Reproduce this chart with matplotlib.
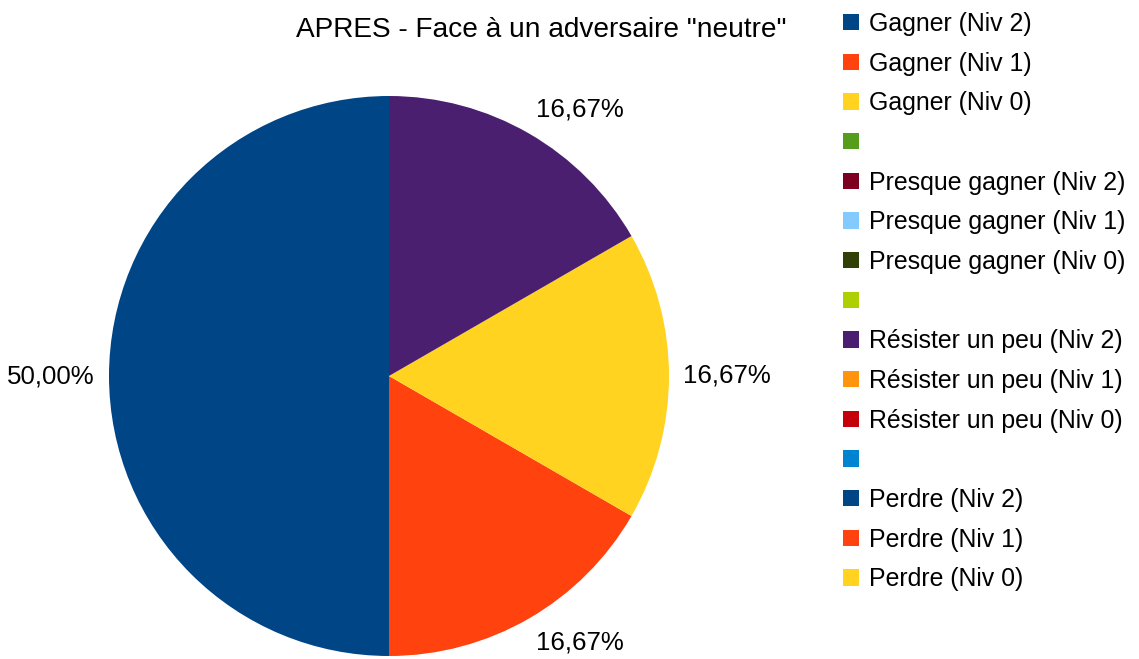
import numpy as np
import matplotlib
matplotlib.use("Agg")
import matplotlib.pyplot as plt

plt.rcParams['font.family'] = ['Liberation Sans', 'DejaVu Sans']

title = 'APRES - Face à un adversaire "neutre"'
categories = [
    "Gagner (Niv 2)", "Gagner (Niv 1)", "Gagner (Niv 0)", "",
    "Presque gagner (Niv 2)", "Presque gagner (Niv 1)", "Presque gagner (Niv 0)", "",
    "Résister un peu (Niv 2)", "Résister un peu (Niv 1)", "Résister un peu (Niv 0)", "",
    "Perdre (Niv 2)", "Perdre (Niv 1)", "Perdre (Niv 0)",
]
values = [3, 1, 1, 0, 0, 0, 0, 0, 1, 0, 0, 0, 0, 0, 0]
palette = ["#004586", "#ff420e", "#ffd320", "#579d1c", "#7e0021", "#83caff",
           "#314004", "#aecf00", "#4b1f6f", "#ff950e", "#c5000b", "#0084d1"]
colors = [palette[i % len(palette)] for i in range(len(categories))]

W, H = 1139, 659
fig = plt.figure(figsize=(W / 100, H / 100), dpi=100)
cx, cy, r = 389, 376, 280
ax = fig.add_axes([(cx - r) / W, (H - cy - r) / H, 2 * r / W, 2 * r / H])

wedges, _ = ax.pie(values, colors=colors, startangle=90, counterclock=True,
                   radius=1, wedgeprops=dict(linewidth=0))
ax.set_xlim(-1, 1)
ax.set_ylim(-1, 1)
ax.set_aspect('equal')
ax.axis('off')

total = sum(values)
for w, v in zip(wedges, values):
    if v == 0:
        continue
    mid = np.deg2rad((w.theta1 + w.theta2) / 2)
    c, s = np.cos(mid), np.sin(mid)
    ha = 'left' if c > 0.1 else ('right' if c < -0.1 else 'center')
    va = 'bottom' if s > 0.1 else ('top' if s < -0.1 else 'center')
    lbl = f"{100 * v / total:.2f}%".replace('.', ',')
    ax.text(1.05 * c, 1.05 * s, lbl, ha=ha, va=va, fontsize=18.6, color='black')

fig.text(541 / W, 1 - 37 / H, title, ha='center', va='baseline', fontsize=20.2)

fig.legend(wedges, categories, loc='upper left',
           bbox_to_anchor=(843 / W, 1 - 12 / H), frameon=False,
           fontsize=17.9, handlelength=0.64, handleheight=0.64,
           handletextpad=0.4, labelspacing=0.63, borderpad=0, borderaxespad=0)

fig.savefig("out.png", dpi=100)
